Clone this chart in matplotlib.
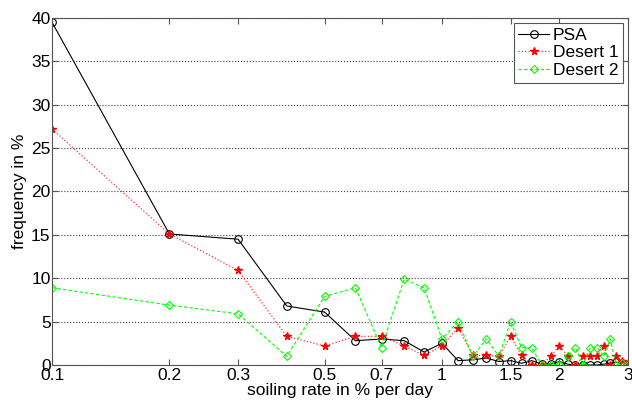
import numpy as np
import matplotlib
matplotlib.use("Agg")
import matplotlib.pyplot as plt
from matplotlib.ticker import FixedLocator, FixedFormatter, NullLocator

# soiling rate classes (% per day)
rate = [0.1, 0.2, 0.3, 0.4, 0.5, 0.6, 0.7, 0.8, 0.9, 1.0,
        1.1, 1.2, 1.3, 1.4, 1.5, 1.6, 1.7, 1.8, 1.9, 2.0,
        2.1, 2.2, 2.3, 2.4, 2.5, 2.6, 2.7, 2.8, 2.9, 3.0]

psa = [39.5, 15.1, 14.5, 6.8, 6.1, 2.8, 3.0, 2.8, 1.5, 2.5,
       0.5, 0.6, 0.8, 0.4, 0.5, 0.2, 0.5, 0.1, 0.1, 0.4,
       0.1, 0.0, 0.0, 0.0, 0.0, 0.1, 0.2, 0.3, 0.2, 0.0]

desert1 = [27.2, 15.1, 10.9, 3.3, 2.2, 3.3, 3.3, 2.2, 1.1, 2.2,
           4.3, 1.1, 1.1, 1.0, 3.3, 1.1, 0.0, 0.0, 1.0, 2.2,
           1.0, 0.0, 1.0, 1.0, 1.0, 2.2, 0.0, 1.0, 0.5, 0.2]

desert2 = [8.9, 6.9, 5.9, 1.0, 7.9, 8.9, 2.0, 9.9, 8.9, 3.0,
           5.0, 1.0, 3.0, 1.0, 5.0, 2.0, 2.0, 0.0, 0.0, 0.0,
           1.0, 2.0, 0.0, 2.0, 2.0, 1.0, 3.0, 0.0, 0.2, 0.0]

xticks = [0.1, 0.2, 0.3, 0.5, 0.7, 1, 1.5, 2, 3]
xticklabels = ['0.1', '0.2', '0.3', '0.5', '0.7', '1', '1.5', '2', '3']

plt.rcParams['font.family'] = ['Liberation Sans', 'DejaVu Sans']
plt.rcParams['font.size'] = 12.5

fig = plt.figure(figsize=(6.32, 4.05), dpi=100)
ax = fig.add_axes([0.0823, 0.0988, 0.9114, 0.8568])

ax.plot(rate, psa, color='black', linestyle='-', linewidth=0.8,
        marker='o', markersize=5.5, markerfacecolor='none',
        markeredgecolor='black', markeredgewidth=0.8, label='PSA')
ax.plot(rate, desert1, color='#ff3030', linestyle=':', linewidth=0.9,
        marker='*', markersize=5.5, markerfacecolor='red',
        markeredgecolor='red', label='Desert 1')
ax.plot(rate, desert2, color='#00ff00', linestyle='--', linewidth=0.8,
        dashes=(3, 2), marker='D', markersize=4.5, markerfacecolor='none',
        markeredgecolor='#00ff00', markeredgewidth=0.8, label='Desert 2')

ax.set_xscale('log')
ax.set_xlim(0.1, 3)
ax.set_ylim(0, 40)
ax.xaxis.set_major_locator(FixedLocator(xticks))
ax.xaxis.set_major_formatter(FixedFormatter(xticklabels))
ax.xaxis.set_minor_locator(NullLocator())
ax.set_yticks(np.arange(0, 41, 5))

ax.grid(axis='y', linestyle=':', color='#404040', linewidth=0.8)
ax.tick_params(direction='in', top=True, right=True, length=4,
               color='#555555', pad=1)
ax.tick_params(axis='x', pad=2)
for s in ax.spines.values():
    s.set_color('#555555')
    s.set_linewidth(0.8)

ax.set_xlabel('soiling rate in % per day', labelpad=0)
ax.set_ylabel('frequency in %', labelpad=3)

leg = ax.legend(loc='upper right', fancybox=False, edgecolor='#555555',
                handlelength=1.8, handletextpad=0.2, borderpad=0.25,
                labelspacing=0.15, borderaxespad=0.3, framealpha=1)
leg.get_frame().set_linewidth(0.8)

fig.savefig('out.png', dpi=100)
